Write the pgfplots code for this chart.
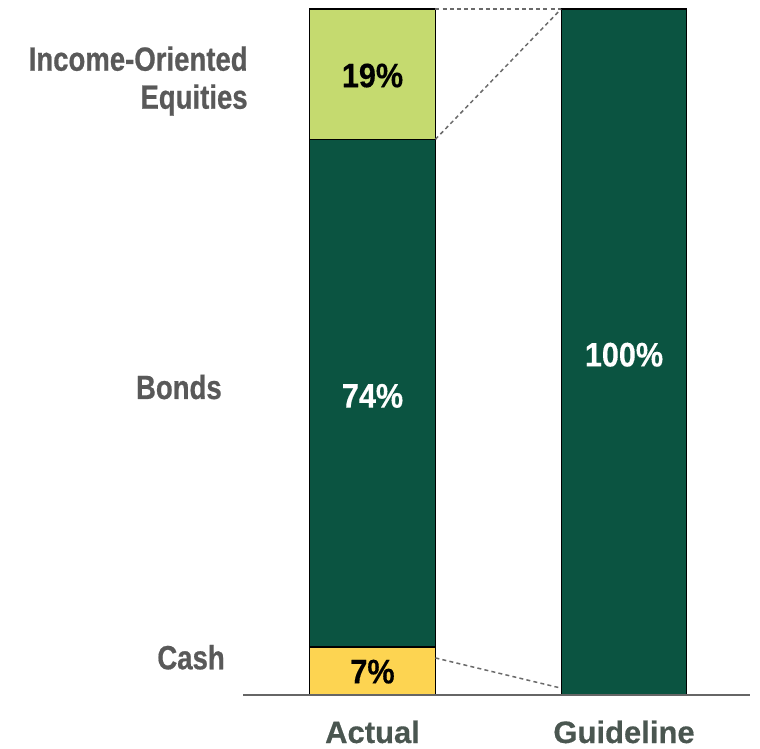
\documentclass[border=0pt]{standalone}
\usepackage{pgfplots}
\pgfplotsset{compat=1.18}
\usepackage{fontspec}
\setmainfont{Liberation Sans}
\newfontfamily\condfont[FakeStretch=0.82,FakeBold=0.6]{Liberation Sans}
\newfontfamily\valfont[FakeStretch=0.9,FakeBold=0.3]{Liberation Sans}
\newfontfamily\tickfont[FakeBold=0.4]{Liberation Sans}
\definecolor{dkgreen}{HTML}{0B5441}
\definecolor{ltgreen}{HTML}{C5DA6F}
\definecolor{yel}{HTML}{FDD451}
\definecolor{lblgray}{HTML}{595959}
\definecolor{tickgray}{HTML}{4A5650}
\definecolor{basegray}{HTML}{666666}
\definecolor{dashgray}{HTML}{6A6A6A}
\begin{document}
\begin{tikzpicture}
\useasboundingbox (-121.5pt,-27pt) rectangle (258.5pt,347.5pt);
\begin{axis}[
  at={(0,0)}, anchor=south west,
  scale only axis, width=253.5pt, height=343pt,
  xmin=-0.515, xmax=1.501, ymin=0, ymax=100,
  ybar stacked, bar width=0.5,
  axis x line=bottom, axis y line=none,
  x axis line style={draw=none},
  xtick={0,1}, xticklabels={Actual,Guideline},
  major tick length=0pt,
  xticklabel style={anchor=base, yshift=-24pt, font=\tickfont\fontsize{15.5}{17}\selectfont\bfseries, text=tickgray},
  clip=false,
]
\addplot[fill=yel, draw=black, line width=0.6pt] coordinates {(0,7) (1,0)};
\addplot[fill=dkgreen, draw=black, line width=0.6pt] coordinates {(0,74) (1,100)};
\addplot[fill=ltgreen, draw=black, line width=0.6pt] coordinates {(0,19) (1,0)};
\coordinate (x0) at (axis cs:-0.515,0);
\coordinate (x1) at (axis cs:1.501,0);
\coordinate (t1) at (axis cs:0.25,100);
\coordinate (t2) at (axis cs:0.75,100);
\coordinate (d1) at (axis cs:0.25,81);
\coordinate (b1) at (axis cs:0.25,5.4);
\coordinate (b2) at (axis cs:0.75,1.0);
\coordinate (v19) at (axis cs:0,90.3);
\coordinate (v74) at (axis cs:0,43.6);
\coordinate (v7) at (axis cs:0,3.4);
\coordinate (v100) at (axis cs:1,49.6);
\coordinate (lInc) at (axis cs:-0.495,89.5);
\coordinate (lBon) at (axis cs:-0.598,44.9);
\coordinate (lCas) at (axis cs:-0.586,5.5);
\end{axis}
\draw[basegray, line width=1.3pt] (x0) -- (x1);
\draw[dashgray, line width=0.75pt, dash pattern=on 2pt off 1.6pt] (t1) -- (t2);
\draw[dashgray, line width=0.75pt, dash pattern=on 2pt off 1.6pt] (d1) -- (t2);
\draw[dashgray, line width=0.75pt, dash pattern=on 2pt off 1.6pt] (b1) -- (b2);
\node[font=\valfont\fontsize{17}{19}\selectfont\bfseries, text=black] at (v19) {19\%};
\node[font=\valfont\fontsize{17}{19}\selectfont\bfseries, text=white] at (v74) {74\%};
\node[font=\valfont\fontsize{17}{19}\selectfont\bfseries, text=black] at (v7) {7\%};
\node[font=\valfont\fontsize{17}{19}\selectfont\bfseries, text=white] at (v100) {100\%};
\node[anchor=east, align=right, inner sep=0pt, font=\condfont\fontsize{16.8}{19}\selectfont\bfseries, text=lblgray] at (lInc) {Income-Oriented\\Equities};
\node[anchor=east, inner sep=0pt, font=\condfont\fontsize{16.8}{19}\selectfont\bfseries, text=lblgray] at (lBon) {Bonds};
\node[anchor=east, inner sep=0pt, font=\condfont\fontsize{16.8}{19}\selectfont\bfseries, text=lblgray] at (lCas) {Cash};
\end{tikzpicture}
\end{document}
